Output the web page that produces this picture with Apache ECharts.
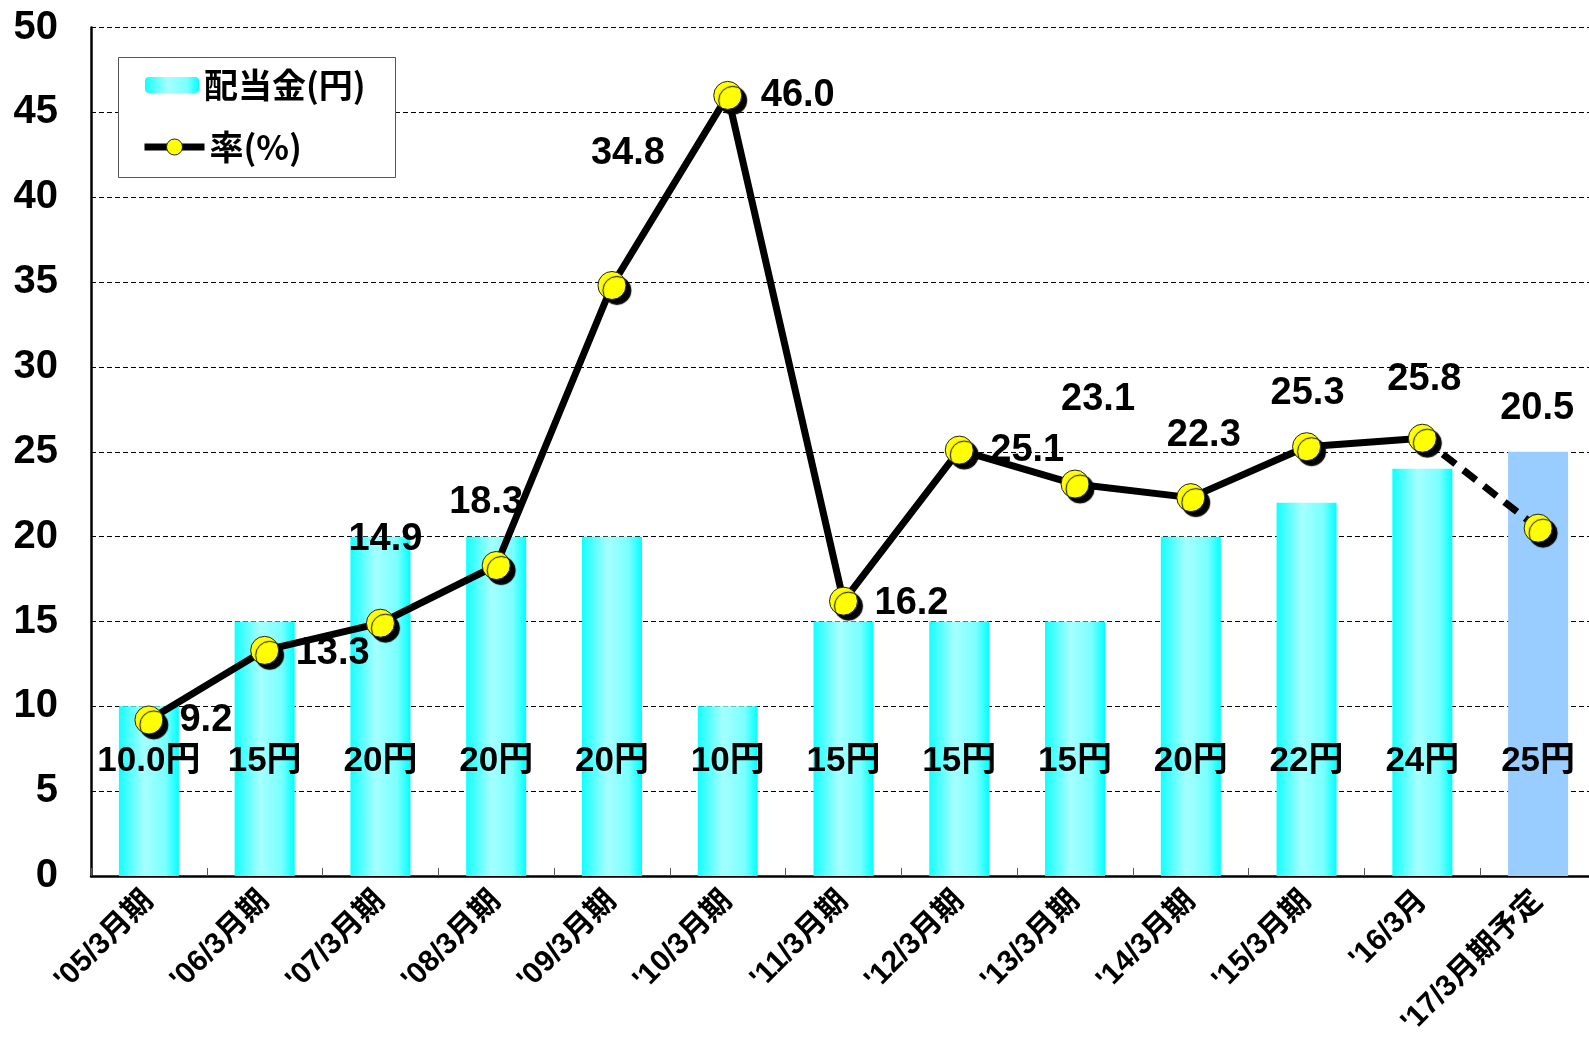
<!DOCTYPE html>
<html>
<head>
<meta charset="utf-8">
<script src="https://cdn.jsdelivr.net/npm/echarts@6/dist/echarts.min.js"></script>
<style>
html,body{margin:0;padding:0;background:#fff;overflow:hidden;width:1589px;height:1040px;}
#chart{width:1596px;height:1040px;}
</style>
</head>
<body>
<div id="chart"></div>
<script>
// ---- data ----
const categories = ["'05/3月期","'06/3月期","'07/3月期","'08/3月期","'09/3月期","'10/3月期","'11/3月期","'12/3月期","'13/3月期","'14/3月期","'15/3月期","'16/3月","'17/3月期予定"];
const dividends = [10, 15, 20, 20, 20, 10, 15, 15, 15, 20, 22, 24, 25];
const dividendLabels = ["10.0円","15円","20円","20円","20円","10円","15円","15円","15円","20円","22円","24円","25円"];
const payoutRatio = [9.2, 13.3, 14.9, 18.3, 34.8, 46.0, 16.2, 25.1, 23.1, 22.3, 25.3, 25.8, 20.5];
const yTicks = {min: 0, max: 50, interval: 5};
const forecastIndex = 12;
const seriesNames = ["配当金(円)", "率(%)"];

// ---- styling (label placement per point) ----
const ratioLabelOffsets = [[57,1],[68,3],[5,-84],[-10,-63],[16,-132],[70,0],[68,2],[68,0],[23,-85],[13,-62],[1,-53],[2,-59],[-1,-120]];

const barGradient = new echarts.graphic.LinearGradient(0, 0, 1, 0, [
  {offset: 0, color: '#14FFFF'},
  {offset: 0.42, color: '#A6FFFF'},
  {offset: 0.78, color: '#7AFFFF'},
  {offset: 1, color: '#00FFFF'}
]);

const barData = dividends.map((v, i) => ({
  value: v,
  itemStyle: {color: i === forecastIndex ? '#99CCFF' : barGradient},
  label: {formatter: dividendLabels[i]}
}));

const solidData = payoutRatio.map((v, i) => i < forecastIndex ? {
  value: v,
  label: {offset: ratioLabelOffsets[i]}
} : '-');

const dashedData = payoutRatio.map((v, i) => {
  if (i === forecastIndex) return {value: v, label: {show: true, offset: ratioLabelOffsets[i]}};
  if (i === forecastIndex - 1) return {value: v, symbol: 'none', label: {show: false}};
  return '-';
});

const markerStyle = {
  color: '#FFFF00',
  borderColor: '#222',
  borderWidth: 1,
  shadowColor: '#000',
  shadowBlur: 1,
  shadowOffsetX: 5,
  shadowOffsetY: 5
};

const ratioLabel = {
  show: true,
  position: 'inside',
  color: '#000',
  fontSize: 38,
  fontWeight: 'bold',
  fontFamily: 'Liberation Sans, Arial, sans-serif',
  formatter: p => Number(p.value).toFixed(1)
};

const legendText = {fontSize: 34, fontWeight: 'bold', color: '#000', fontFamily: 'Noto Sans CJK JP, sans-serif'};

const chart = echarts.init(document.getElementById('chart'), null, {renderer: 'canvas'});
chart.setOption({
  animation: false,
  backgroundColor: '#fff',
  grid: {left: 91, right: 0, top: 27.5, bottom: 162.5, containLabel: false},
  graphic: [{
    type: 'rect',
    left: 118, top: 57,
    shape: {width: 277, height: 120},
    style: {fill: '#fff', stroke: '#555', lineWidth: 1},
    z: 5
  }],
  legend: [
    {
      data: [seriesNames[0]],
      left: 145, top: 68,
      padding: 0,
      itemWidth: 54, itemHeight: 16, itemGap: 6,
      textStyle: legendText,
      z: 10
    },
    {
      data: [seriesNames[1]],
      left: 141, top: 130,
      padding: 0,
      itemWidth: 60, itemHeight: 20, itemGap: 6,
      lineStyle: {width: 7, color: '#000'},
      itemStyle: {shadowBlur: 0, shadowOffsetX: 0, shadowOffsetY: 0, borderColor: '#222', borderWidth: 1},
      textStyle: legendText,
      z: 10
    }
  ],
  xAxis: {
    type: 'category',
    data: categories,
    axisLine: {lineStyle: {color: '#000', width: 2.5}},
    axisTick: {show: true, inside: true, length: 8, lineStyle: {color: '#555', width: 1}},
    axisLabel: {
      rotate: 45,
      margin: 20,
      fontSize: 30,
      fontWeight: 'bold',
      color: '#000',
      fontFamily: 'Liberation Sans, Noto Sans CJK JP, sans-serif',
      interval: 0
    }
  },
  yAxis: {
    type: 'value',
    min: yTicks.min,
    max: yTicks.max,
    interval: yTicks.interval,
    axisLine: {show: true, lineStyle: {color: '#000', width: 2.5}},
    axisTick: {show: false},
    axisLabel: {
      fontSize: 40,
      fontWeight: 'bold',
      color: '#000',
      margin: 33,
      fontFamily: 'Liberation Sans, Arial, sans-serif'
    },
    splitLine: {lineStyle: {color: '#000', width: 1, type: [5, 3]}}
  },
  series: [
    {
      name: seriesNames[0],
      type: 'bar',
      data: barData,
      barWidth: 60,
      itemStyle: {color: barGradient},
      label: {
        show: true,
        position: 'insideBottom',
        distance: 97,
        color: '#000',
        fontSize: 35,
        fontWeight: 'bold',
        fontFamily: 'Liberation Sans, Noto Sans CJK JP, sans-serif'
      },
      z: 1
    },
    {
      name: 'forecast',
      type: 'line',
      data: dashedData,
      symbol: 'circle',
      symbolSize: 28,
      lineStyle: {color: '#000', width: 7, type: [16, 10]},
      itemStyle: markerStyle,
      label: ratioLabel,
      connectNulls: false,
      z: 3
    },
    {
      name: seriesNames[1],
      type: 'line',
      data: solidData,
      symbol: 'circle',
      symbolSize: 28,
      lineStyle: {color: '#000', width: 7},
      itemStyle: markerStyle,
      label: ratioLabel,
      z: 4
    }
  ]
});
</script>
</body>
</html>
